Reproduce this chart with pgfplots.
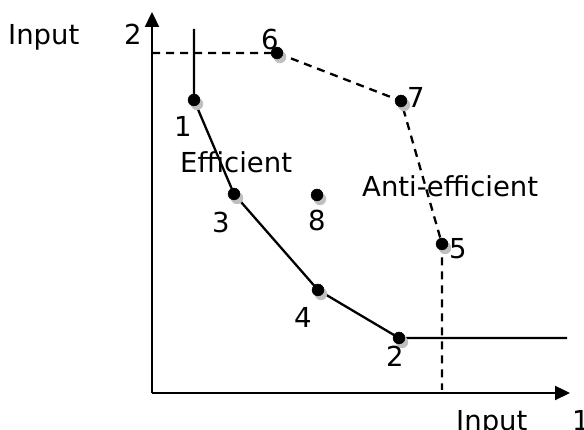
\documentclass[border=0pt]{standalone}
\usepackage{pgfplots}
\pgfplotsset{compat=1.18}
\usepackage{fontspec}
\setmainfont{DejaVu Sans}
\usetikzlibrary{arrows.meta}

% points (pixel coords, y measured from bottom)
\pgfplotstableread{
x y lab
194 330 1
399 92 2
234 236 3
318 140 4
442 186 5
277 377 6
401 329 7
317 235 8
}\points

\begin{document}
\begin{tikzpicture}[x=1pt,y=1pt]
\begin{axis}[
    at={(0,0)}, anchor=south west,
    scale only axis,
    width=584pt, height=430pt,
    xmin=0, xmax=584, ymin=0, ymax=430,
    hide axis,
    clip=false,
]
% axes
\draw[line width=2.3pt,-{Triangle[length=15pt,width=14pt]}] (axis cs:152,37) -- (axis cs:152,418);
\draw[line width=2.3pt,-{Triangle[length=15pt,width=14pt]}] (axis cs:152,37) -- (axis cs:570,37);
% efficient frontier
\addplot[black,line width=2.3pt] coordinates {(194,401) (194,330) (234,236) (318,140) (399,92) (567,92)};
% anti-efficient frontier
\addplot[black,line width=2.3pt,dash pattern=on 8pt off 6pt] coordinates {(152,377) (277,377) (401,329) (442,186) (442,40)};
% shadows and points
\addplot[only marks,mark=*,mark size=6pt,color=black!25,
    x filter/.expression={x+3}, y filter/.expression={y-4}] table[x=x,y=y] {\points};
\addplot[only marks,mark=*,mark size=6pt,black] table[x=x,y=y] {\points};
\end{axis}
\begin{scope}[font=\fontsize{27.5}{32}\selectfont]
\node[anchor=base west,inner sep=0] at (174,293) {1};
\node[anchor=base west,inner sep=0] at (386,63) {2};
\node[anchor=base west,inner sep=0] at (212,197) {3};
\node[anchor=base west,inner sep=0] at (294,102) {4};
\node[anchor=base west,inner sep=0] at (449,171) {5};
\node[anchor=base west,inner sep=0] at (261,380) {6};
\node[anchor=base west,inner sep=0] at (407,322) {7};
\node[anchor=base west,inner sep=0] at (308,199) {8};
\node[anchor=base west,inner sep=0] at (180,257) {Efficient};
\node[anchor=base west,inner sep=0] at (362,233) {Anti-efficient};
\node[anchor=base west,inner sep=0] at (8,385) {Input};
\node[anchor=base west,inner sep=0] at (124,385) {2};
\node[anchor=base west,inner sep=0,overlay] at (456,-1) {Input};
\node[anchor=base west,inner sep=0,overlay] at (572,-1) {1};
\end{scope}
\pgfresetboundingbox
\useasboundingbox (0,0) rectangle (584,430);
\end{tikzpicture}
\end{document}
